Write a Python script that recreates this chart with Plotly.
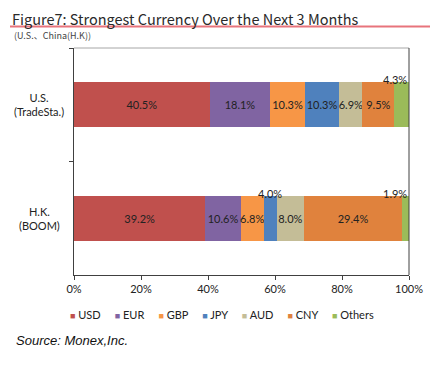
import plotly.graph_objects as go

categories = ["U.S.<br>(TradeSta.)", "H.K.<br>(BOOM)"]
currencies = ["USD", "EUR", "GBP", "JPY", "AUD", "CNY", "Others"]
us_values = [40.5, 18.1, 10.3, 10.3, 6.9, 9.5, 4.3]
hk_values = [39.2, 10.6, 6.8, 4.0, 8.0, 29.4, 1.9]
x_ticks = [0, 20, 40, 60, 80, 100]
x_tick_labels = ["0%", "20%", "40%", "60%", "80%", "100%"]

colors = ["#C0504D", "#8064A2", "#F79646", "#4F81BD", "#C4BD97", "#E0823D", "#9BBB59"]

# the page body has an 8px margin, so the figure is drawn 8px in from the window edge
OFF = 8
W, H = 446 - OFF, 377 - OFF
# plot area in window pixels: x 74..409, y 48..275
PL, PR, PT, PB = 74, 409, 48, 275
ML, MR, MT, MB = PL - OFF, (W + OFF) - PR, PT - OFF, (H + OFF) - PB
PW = PR - PL
PH = PB - PT


def px_to_paper_x(px):
    return (px - PL) / PW


def px_to_paper_y(py):
    return (PB - py) / PH


label_font = dict(family="Lato, 'DejaVu Sans', sans-serif", size=11, color="#222222")

fig = go.Figure()
rows = [us_values, hk_values]
for i, cur in enumerate(currencies):
    xs = [r[i] for r in rows]
    texts = [f"{v:.1f}%" if v >= 5 else "" for v in xs]
    fig.add_trace(go.Bar(
        y=categories, x=xs, name=cur, orientation="h",
        marker=dict(color=colors[i], line=dict(width=0)),
        text=texts, textposition="inside", insidetextanchor="middle",
        textangle=0, constraintext="none", textfont=label_font,
        showlegend=False, hoverinfo="x+name",
    ))

annotations = []
# small-segment labels placed above the bar
for ci, row in enumerate(rows):
    cum = 0
    for v in row:
        mid = cum + v / 2
        cum += v
        if v < 5:
            if mid > 96:
                annotations.append(dict(x=100, y=categories[ci], xref="x", yref="y",
                                        text=f"{v:.1f}%", showarrow=False, xanchor="right",
                                        yanchor="middle", yshift=25, font=label_font))
            else:
                annotations.append(dict(x=mid, y=categories[ci], xref="x", yref="y",
                                        text=f"{v:.1f}%", showarrow=False, xanchor="center",
                                        yanchor="middle", yshift=25, font=label_font))

# category labels, centered
for c in categories:
    annotations.append(dict(x=px_to_paper_x(39), y=c, xref="paper", yref="y",
                            text=c, showarrow=False, xanchor="center", yanchor="middle",
                            align="center", font=dict(family="Lato, sans-serif", size=11, color="#222222")))

# legend
legend_parts = [f"<span style='color:{col};font-size:9px'>■</span> {cur}" for cur, col in zip(currencies, colors)]
annotations.append(dict(x=px_to_paper_x(222), y=px_to_paper_y(314), xref="paper", yref="paper",
                        text="     ".join(legend_parts), showarrow=False, xanchor="center",
                        yanchor="middle", font=dict(family="Lato, sans-serif", size=11, color="#222222")))

# title
annotations.append(dict(x=px_to_paper_x(10), y=px_to_paper_y(18), xref="paper", yref="paper",
                        text="Figure7: Strongest Currency Over the Next 3 Months", showarrow=False,
                        xanchor="left", yanchor="middle",
                        font=dict(family="'Noto Sans CJK JP', sans-serif", size=14.5, color="#2a2a2a")))
# subtitle
annotations.append(dict(x=px_to_paper_x(12), y=px_to_paper_y(35), xref="paper", yref="paper",
                        text="(U.S.、China(H.K))", showarrow=False, xanchor="left", yanchor="middle",
                        font=dict(family="'Noto Sans CJK JP', sans-serif", size=9, color="#444444")))
# source
annotations.append(dict(x=px_to_paper_x(14), y=px_to_paper_y(340), xref="paper", yref="paper",
                        text="<i>Source: Monex,Inc.</i>", showarrow=False, xanchor="left", yanchor="middle",
                        font=dict(family="'Liberation Sans', Arial, sans-serif", size=13, color="#111111")))

shapes = [
    dict(type="line", xref="paper", yref="paper", x0=px_to_paper_x(10), x1=px_to_paper_x(430),
         y0=px_to_paper_y(26.5), y1=px_to_paper_y(26.5), line=dict(color="#E8747C", width=2)),
    dict(type="line", xref="x domain", yref="y domain", x0=0, x1=1, y0=1, y1=1,
         line=dict(color="#A6A6A6", width=1)),
    dict(type="line", xref="x domain", yref="y domain", x0=1, x1=1, y0=0, y1=1,
         line=dict(color="#404040", width=1)),
]

fig.update_layout(
    width=W, height=H,
    margin=dict(l=ML, r=MR, t=MT, b=MB),
    paper_bgcolor="white", plot_bgcolor="white",
    barmode="stack", bargap=0.6,
    xaxis=dict(range=[0, 100], tickvals=x_ticks, ticktext=x_tick_labels,
               showgrid=False, zeroline=False, showline=True, linecolor="#404040", linewidth=1,
               ticks="outside", ticklen=4, tickcolor="#404040",
               tickfont=dict(family="Lato, sans-serif", size=11, color="#222222")),
    yaxis=dict(autorange="reversed", showticklabels=False, showgrid=False, zeroline=False,
               showline=True, linecolor="#404040", linewidth=1,
               ticks="outside", ticklen=4, tickcolor="#404040", tickson="boundaries"),
    annotations=annotations,
    shapes=shapes,
    showlegend=False,
)

fig.write_html("out.html")
